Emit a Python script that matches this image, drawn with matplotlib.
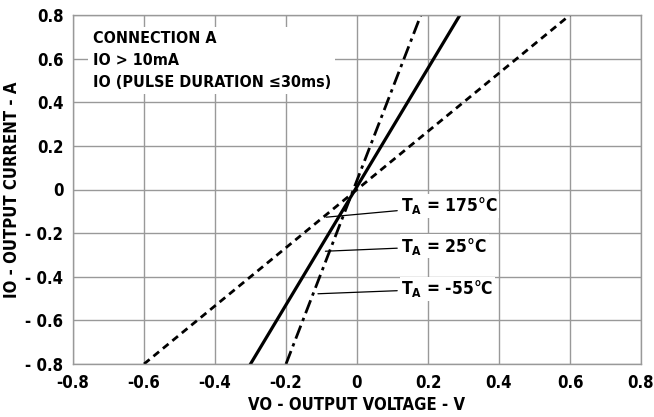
import matplotlib
matplotlib.use("Agg")
import matplotlib.pyplot as plt

plt.rcParams['font.family'] = ['DejaVu Sans']
plt.rcParams['font.stretch'] = 'condensed'
plt.rcParams['font.weight'] = 'bold'

# end points of each curve
v_175 = [-0.60, 0.60]
i_175 = [-0.80, 0.80]
v_25 = [-0.30, 0.29]
i_25 = [-0.80, 0.80]
v_m55 = [-0.20, 0.18]
i_m55 = [-0.80, 0.80]

xticks = [-0.8, -0.6, -0.4, -0.2, 0, 0.2, 0.4, 0.6, 0.8]
xtick_labels = ['-0.8', '-0.6', '-0.4', '-0.2', '0', '0.2', '0.4', '0.6', '0.8']
yticks = [-0.8, -0.6, -0.4, -0.2, 0, 0.2, 0.4, 0.6, 0.8]
ytick_labels = ['- 0.8', '- 0.6', '- 0.4', '- 0.2', '0', '0.2', '0.4', '0.6', '0.8']

labels = ['T$_\\mathbf{A}$ = 175°C', 'T$_\\mathbf{A}$ = 25°C', 'T$_\\mathbf{A}$ = -55°C']
label_xy = [(0.125, -0.075), (0.125, -0.26), (0.125, -0.455)]
arrow_xy = [(-0.087, -0.127), (-0.089, -0.283), (-0.11, -0.478)]

fig = plt.figure(figsize=(6.54, 4.17), dpi=100)
ax = fig.add_axes([73 / 654, 1 - 364 / 417, 568 / 654, 349 / 417])

ax.plot(v_175, i_175, color='black', lw=2.0, ls=(0, (2.6, 1.8)))
ax.plot(v_25, i_25, color='black', lw=2.3, ls='-')
ax.plot(v_m55, i_m55, color='black', lw=2.0, ls=(0, (5, 1.8, 1.2, 1.8)))

ax.set_xlim(-0.8, 0.8)
ax.set_ylim(-0.8, 0.8)
ax.set_xticks(xticks)
ax.set_xticklabels(xtick_labels)
ax.set_yticks(yticks)
ax.set_yticklabels(ytick_labels)
ax.tick_params(length=0, labelsize=12)
ax.tick_params(axis='x', pad=7)
ax.tick_params(axis='y', pad=7)
ax.grid(True, color='#999999', lw=1.0)
ax.set_axisbelow(True)
for s in ax.spines.values():
    s.set_color('#999999')
    s.set_linewidth(1.0)

ax.set_xlabel('VO - OUTPUT VOLTAGE - V', fontsize=12, fontweight='bold', labelpad=3)
ax.set_ylabel('IO - OUTPUT CURRENT - A', fontsize=12, fontweight='bold', labelpad=3)

ax.text(-0.745, 0.727, 'CONNECTION A\nIO > 10mA\nIO (PULSE DURATION ≤30ms)',
        fontsize=11.5, fontweight='bold', va='top', ha='left', linespacing=1.6,
        bbox=dict(facecolor='white', edgecolor='none', pad=3))

for txt, (tx, ty), (axx, ayy) in zip(labels, label_xy, arrow_xy):
    ax.annotate(txt, xy=(axx, ayy), xytext=(tx, ty), fontsize=12.5, fontweight='bold',
                va='center', ha='left',
                bbox=dict(facecolor='white', edgecolor='none', pad=1),
                arrowprops=dict(arrowstyle='-', color='black', lw=0.9,
                                shrinkA=2, shrinkB=0))

fig.savefig('out.png', dpi=100)
